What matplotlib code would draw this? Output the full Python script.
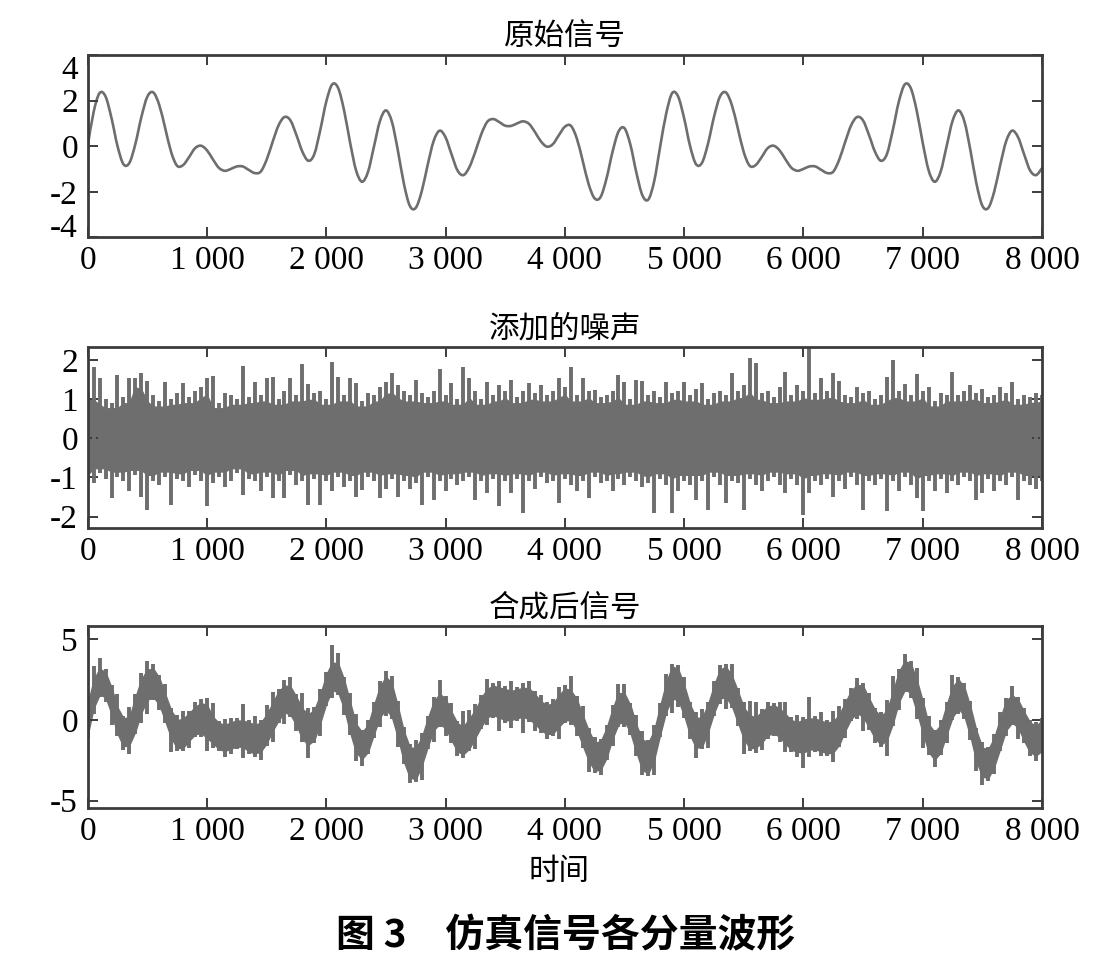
import numpy as np
import matplotlib
matplotlib.use('Agg')
import matplotlib.pyplot as plt
from matplotlib.path import Path
from matplotlib.patches import PathPatch

# Paso de muestreo (en muestras) de los valores
paso = 50

# Senal original, un valor cada 50 muestras (0 ... 8000)
senal_original = [
    0.0, 1.5, 2.33, 2.18, 1.23, 0.01, -0.79, -0.73, 0.10, 1.27,
    2.17, 2.36, 1.81, 0.79, -0.26, -0.86, -0.83, -0.48, -0.09, 0.02,
    -0.18, -0.58, -0.95, -1.08, -1.00, -0.89, -0.89, -1.04, -1.18, -1.12,
    -0.60, 0.18, 0.91, 1.28, 1.13, 0.49, -0.24, -0.64, -0.35, 0.71,
    1.95, 2.71, 2.55, 1.56, 0.16, -1.06, -1.56, -1.13, -0.02, 1.10,
    1.57, 1.08, -0.17, -1.62, -2.61, -2.71, -1.99, -0.83, 0.22, 0.68,
    0.39, -0.35, -1.06, -1.27, -0.92, -0.24, 0.53, 1.07, 1.19, 1.06,
    0.90, 0.89, 1.00, 1.09, 0.98, 0.62, 0.21, -0.02, 0.09, 0.48,
    0.85, 0.90, 0.35, -0.64, -1.67, -2.29, -2.23, -1.41, -0.25, 0.64,
    0.79, 0.06, -1.16, -2.15, -2.34, -1.52, 0.0, 1.43, 2.33, 2.18,
    1.23, 0.01, -0.79, -0.73, 0.10, 1.27, 2.17, 2.36, 1.81, 0.79,
    -0.26, -0.86, -0.83, -0.48, -0.09, 0.02, -0.18, -0.58, -0.95, -1.08,
    -1.00, -0.89, -0.89, -1.04, -1.18, -1.12, -0.60, 0.18, 0.91, 1.28,
    1.13, 0.49, -0.24, -0.64, -0.35, 0.71, 1.95, 2.71, 2.55, 1.56,
    0.16, -1.06, -1.56, -1.13, -0.02, 1.10, 1.57, 1.08, -0.17, -1.62,
    -2.61, -2.71, -1.99, -0.83, 0.22, 0.68, 0.39, -0.35, -1.06, -1.27,
    -0.97,
]

# Envolvente del ruido (maximo y minimo de cada tramo de 50 muestras)
ruido_alto = [
    1.15, 1.83, 1.53, 1.0, 0.9, 1.61, 1.05, 1.55, 1.53, 1.66,
    1.46, 1.1, 0.95, 1.44, 1.0, 1.15, 1.40, 1.05, 1.2, 1.3,
    1.53, 1.6, 0.9, 1.15, 1.1, 1.0, 1.85, 1.05, 1.44, 1.1,
    1.53, 1.57, 1.0, 1.2, 1.53, 1.1, 1.9, 1.38, 1.15, 1.2,
    1.0, 1.95, 1.57, 1.1, 1.53, 1.40, 0.95, 1.15, 1.1, 1.32,
    1.44, 1.66, 1.36, 1.2, 1.1, 1.49, 1.15, 1.05, 1.2, 1.78,
    1.1, 1.40, 1.0, 1.81, 1.53, 1.2, 1.0, 1.44, 1.1, 1.36,
    1.2, 1.49, 1.05, 1.2, 1.40, 1.15, 1.36, 1.1, 1.2, 1.53,
    1.3, 1.83, 1.1, 1.53, 1.2, 1.23, 1.05, 1.1, 1.2, 1.61,
    1.44, 1.0, 1.49, 1.45, 1.1, 1.2, 1.05, 1.44, 1.15, 1.2,
    1.44, 1.1, 1.25, 1.40, 1.0, 1.15, 1.2, 1.1, 1.66, 1.2,
    1.36, 2.04, 1.91, 1.15, 1.2, 1.05, 1.3, 1.70, 1.1, 1.36,
    1.2, 2.3, 1.15, 1.53, 1.2, 1.66, 1.45, 1.1, 1.05, 1.3,
    1.15, 1.2, 1.0, 1.1, 1.57, 1.99, 1.2, 1.38, 1.1, 1.63,
    1.2, 1.3, 0.95, 1.15, 1.1, 1.68, 1.1, 1.2, 1.36, 1.15,
    1.25, 1.05, 1.1, 1.32, 1.15, 1.44, 1.0, 1.1, 1.06, 1.15,
    1.1,
]
ruido_bajo = [
    -1.1, -1.15, -0.9, -1.05, -1.53, -1.0, -1.1, -1.36, -0.95, -1.49,
    -1.83, -1.1, -1.2, -1.0, -1.70, -1.05, -1.1, -1.24, -0.95, -1.1,
    -1.74, -1.15, -1.0, -1.24, -1.1, -0.9, -1.45, -1.05, -1.1, -1.36,
    -1.0, -1.53, -1.1, -1.53, -0.95, -1.2, -1.1, -1.70, -1.05, -1.70,
    -1.1, -1.36, -1.0, -1.25, -1.1, -1.49, -1.32, -1.0, -1.1, -1.53,
    -1.3, -1.05, -1.49, -1.1, -1.3, -1.15, -1.70, -1.0, -1.57, -1.1,
    -1.36, -1.05, -1.2, -1.1, -1.0, -1.57, -1.1, -1.4, -1.05, -1.74,
    -1.1, -1.4, -1.05, -1.91, -1.1, -1.3, -1.0, -1.15, -1.1, -1.66,
    -1.05, -1.2, -1.36, -1.1, -1.53, -1.0, -1.15, -1.1, -1.36, -1.05,
    -1.2, -1.0, -1.1, -1.25, -1.15, -1.91, -1.05, -1.2, -1.91, -1.36,
    -1.1, -1.2, -1.57, -1.1, -1.83, -1.0, -1.2, -1.66, -1.1, -1.15,
    -1.83, -1.05, -1.2, -1.36, -1.1, -1.0, -1.2, -1.4, -1.05, -1.2,
    -1.96, -1.4, -1.1, -1.2, -1.05, -1.49, -1.1, -1.3, -1.0, -1.2,
    -1.83, -1.1, -1.2, -1.05, -1.87, -1.1, -1.36, -1.0, -1.2, -1.53,
    -1.87, -1.1, -1.36, -1.05, -1.4, -1.1, -1.2, -1.0, -1.1, -1.57,
    -1.4, -1.05, -1.36, -1.1, -1.2, -1.0, -1.57, -1.1, -1.2, -1.3,
    -1.1,
]

titulos = ['原始信号', '添加的噪声', '合成后信号']
xticks_pos = [0, 1000, 2000, 3000, 4000, 5000, 6000, 7000, 8000]
xticks_txt = ['0', '1 000', '2 000', '3 000', '4 000', '5 000', '6 000', '7 000', '8 000']
yticks_original = [-4, -2, 0, 2, 4]
yticks_ruido = [-2, -1, 0, 1, 2]
yticks_suma = [-5, 0, 5]

color_linea = '#6e6e6e'
color_ejes = '#3c3c3c'
fuente_cjk = 'Noto Sans CJK SC'

plt.rcParams['font.family'] = ['Liberation Serif', 'DejaVu Serif']

tiempo = np.arange(len(senal_original)) * paso
senal = np.array(senal_original)
alto = np.array(ruido_alto)
bajo = np.array(ruido_bajo)

# nucleo macizo de la banda de ruido: lo que comparten tramos vecinos
alto_pad = np.pad(alto, 1, mode='edge')
bajo_pad = np.pad(bajo, 1, mode='edge')
nucleo_alto = 0.85 * np.minimum.reduce([alto_pad[:-2], alto_pad[1:-1], alto_pad[2:]])
nucleo_bajo = 0.85 * np.maximum.reduce([bajo_pad[:-2], bajo_pad[1:-1], bajo_pad[2:]])


def estilo_ejes(ax, yticks, ylim, titulo):
    ax.set_xlim(0, 8000)
    ax.set_ylim(*ylim)
    ax.set_xticks(xticks_pos)
    ax.set_xticklabels(xticks_txt)
    ax.set_yticks(yticks)
    ax.set_yticklabels(['%d' % v for v in yticks])
    ax.tick_params(direction='in', length=7, width=1.4, top=True, right=True,
                   labelsize=24, color=color_ejes, labelcolor='black')
    ax.tick_params(axis='x', pad=6)
    ax.tick_params(axis='y', pad=7)
    for s in ax.spines.values():
        s.set_linewidth(2)
        s.set_color(color_ejes)
    ax.set_title(titulo, fontsize=22, family=fuente_cjk, pad=7)


def trazo_suave(x, y):
    # curva de Bezier que pasa por los puntos leidos (solo para dibujar)
    pts = np.column_stack([x, y])
    n = len(pts)
    verts = [pts[0]]
    codes = [Path.MOVETO]
    for i in range(n - 1):
        p0 = pts[max(i - 1, 0)]
        p1 = pts[i]
        p2 = pts[i + 1]
        p3 = pts[min(i + 2, n - 1)]
        verts += [p1 + (p2 - p0) / 6, p2 - (p3 - p1) / 6, p2]
        codes += [Path.CURVE4] * 3
    return Path(verts, codes)


def banda_ruido(ax, base):
    ax.fill_between(tiempo, base + nucleo_bajo, base + nucleo_alto,
                    color=color_linea, lw=1.0)
    ax.vlines(tiempo, base + bajo, base + alto, color=color_linea, lw=2.8)


fig = plt.figure(figsize=(11.04, 9.57), dpi=100)

# Senal original
ax1 = fig.add_axes([0.0794, 0.752, 0.8644, 0.1905])
ax1.add_patch(PathPatch(trazo_suave(tiempo, senal), fill=False,
                        edgecolor=color_linea, lw=1.9))
estilo_ejes(ax1, yticks_original, (-4, 4), titulos[0])
marcas = ax1.yaxis.get_major_ticks()
marcas[0].label1.set_va('baseline')
marcas[-1].label1.set_va('top')

# Ruido anadido
ax2 = fig.add_axes([0.0794, 0.448, 0.8644, 0.1894])
banda_ruido(ax2, np.zeros_like(senal))
estilo_ejes(ax2, yticks_ruido, (-2.3, 2.33), titulos[1])

# Senal con ruido
ax3 = fig.add_axes([0.0794, 0.1557, 0.8644, 0.190])
banda_ruido(ax3, senal)
estilo_ejes(ax3, yticks_suma, (-5.45, 5.8), titulos[2])

fig.text(0.506, 1 - 872 / 957, '时间', ha='center', va='center',
         fontsize=22, family=fuente_cjk)
fig.text(0.512, 1 - 936 / 957, '图 3\u3000仿真信号各分量波形', ha='center', va='center',
         fontsize=28, weight='bold', family=fuente_cjk)

fig.savefig('out.png', dpi=100)
